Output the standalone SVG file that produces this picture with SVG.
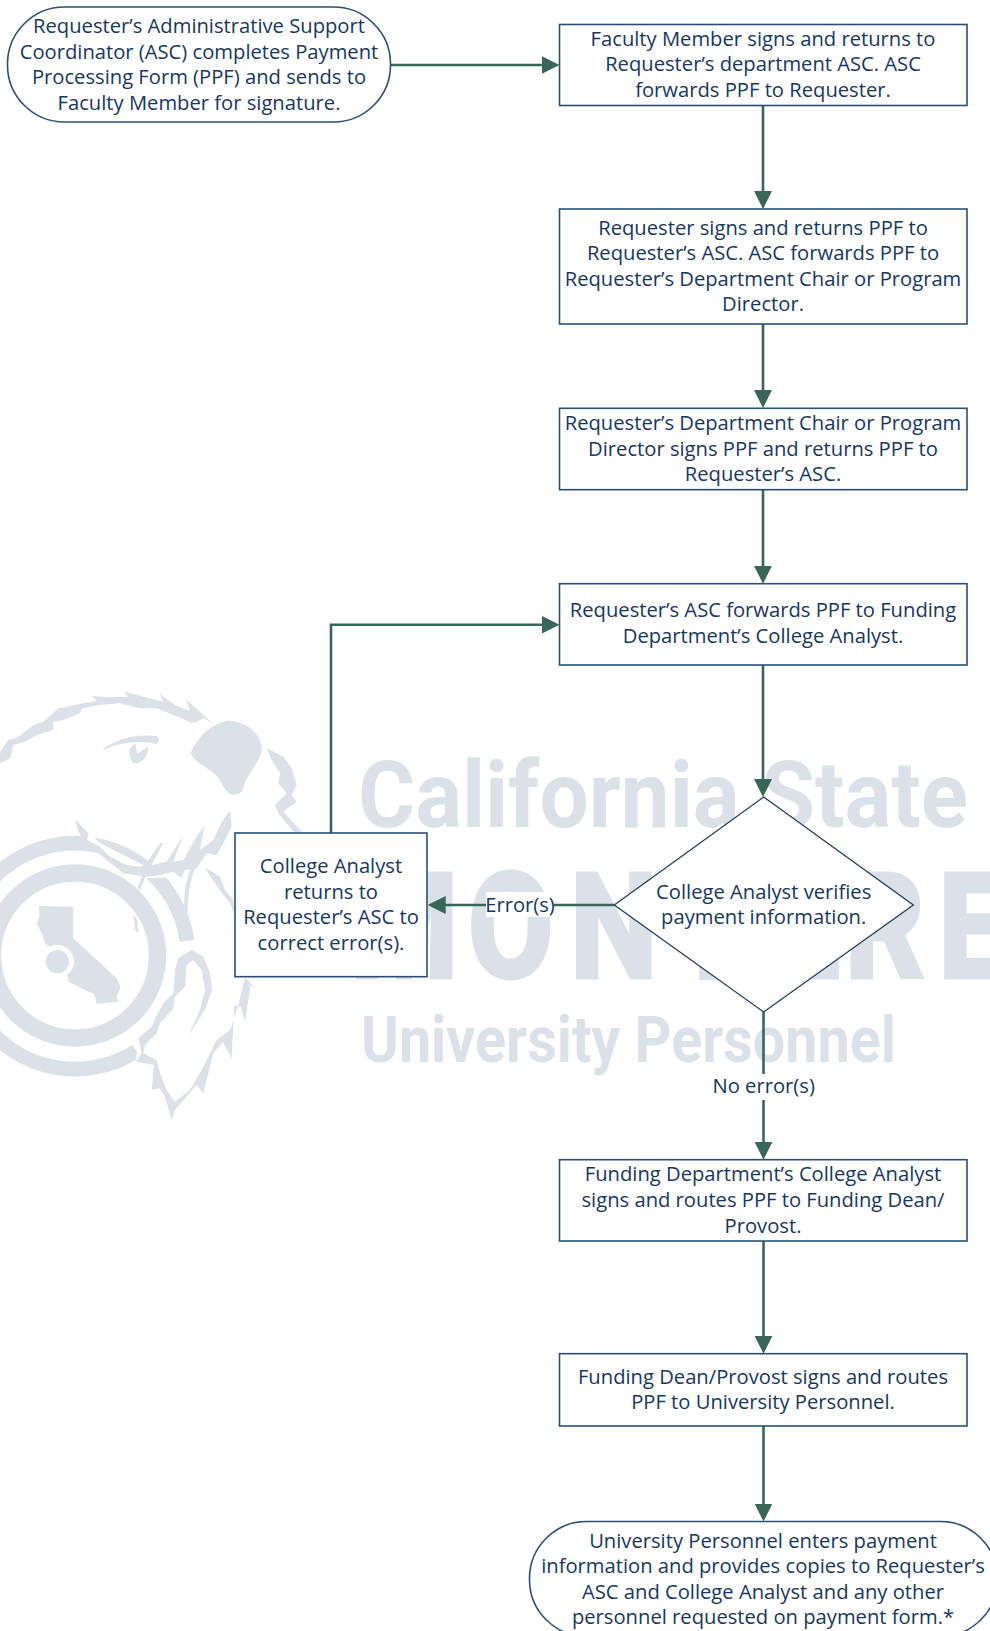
<svg xmlns="http://www.w3.org/2000/svg" width="990" height="1631" viewBox="0 0 990 1631">
<style>
.n{fill:#fff;stroke:#2b4f74;stroke-width:1.6}
.d{fill:#fff;stroke:#1f3d5f;stroke-width:1.3}
.t{font-family:"Open Sans","Noto Sans","DejaVu Sans",sans-serif;font-size:20.2px;fill:#17375e;text-anchor:middle}
.c{fill:none;stroke:#3a6658;stroke-width:2.6}
.w{fill:#dbe1e8}
.wt{font-family:Roboto,"Liberation Sans",sans-serif;font-weight:700;fill:#dbe1e8}
</style>
<defs>
<marker id="a" markerUnits="userSpaceOnUse" markerWidth="18" markerHeight="18" refX="8" refY="9" orient="auto"><path d="M0 0L18 9L0 18Z" fill="#3a6658"/></marker>
</defs>
<rect width="990" height="1631" fill="#fff"/>
<g id="watermark">
<g class="w">
<g transform="translate(0 680) scale(.33333)">
<path d="M0 215L25 180L50 175L100 135L130 125L175 85L225 75L290 62L275 48L330 52L385 50L370 33L430 50L490 65L478 42L530 78L570 92L558 58L605 100L637 130L610 115L590 125L575 128L520 105L470 85L420 85L360 70L300 75L245 85L240 100L190 120L160 125L160 150L110 165L75 185L40 195L30 235L0 250Z"/>
<path d="M305 212C340 180 400 160 470 168Q482 178 470 192C420 180 360 185 305 212Z"/>
<path d="M390 205L405 190L412 220L445 200C445 235 420 252 405 250C390 245 385 225 390 205Z"/>
</g>
<g transform="translate(0 670) scale(.33333)">
<path d="M572 250C590 200 640 155 690 152C740 155 785 190 785 240C780 280 745 300 725 365Q695 390 670 350C650 295 590 290 572 250Z"/>
<path d="M800 235L850 260L875 295L890 345L875 375L890 395L850 425L905 485L880 485L835 430L825 405L860 370L835 340L840 310L815 270Z"/>
<path d="M612 590L660 620L675 660L700 690L705 740L690 700L655 655Z"/>
</g>
</g>
<g fill="none" stroke="#dbe1e8">
<circle cx="75" cy="955.500" r="82.500" stroke-width="17.500"/>
<path d="M187 941A113 113 0 1 0 136.500 1051" stroke-width="14.700"/>
</g>
<g class="w">
<g transform="translate(0 680) scale(.33333)">
<path fill="#fff" d="M232 420L300 490L440 560L700 400L720 440L600 590L430 595L262 495Z"/>
<path d="M565 720C560 670 565 620 585 565L572 565C550 620 550 680 555 720Z"/>
<path d="M412 625L432 575L442 575L420 630Z"/>
<path d="M225 418L265 460L262 480L300 500L330 530L380 555L420 560L440 550L480 490L490 488L455 555L500 545L550 465L520 545L550 540L590 470L612 438L600 510L640 480L665 425L690 392L695 440L670 490L650 525L620 520L590 565L555 570L545 595L520 575L480 585L440 590L405 585L370 580L320 540L290 515L260 495L235 455Z"/>
</g>
<g transform="translate(0 890) scale(.33333)">
<path d="M117 48L220 50L220 145L350 265L362 290L350 322L356 335L290 342L282 312L235 290L205 275L190 200L135 160L125 130L110 100L118 80Z"/>
<circle cx="172" cy="215" r="50" fill="#fff"/>
<circle cx="172" cy="215" r="35"/>
<path d="M400 75L412 90L416 132L405 120Z"/>
<path fill="#fff" d="M525 240L520 310L465 385L415 445L408 515L462 525L600 640L772 300L740 200Z"/>
<path d="M772 300L752 285L735 395L722 350L703 345L695 505L668 455L640 490L610 610L590 585L525 660L515 690L495 620L478 595L455 600L462 525L408 515L425 488L415 445L455 410L465 385L490 340L520 310L525 240L535 205L575 180L610 200L630 250L636 300L615 360L565 437L600 360L615 300L605 240L580 210L560 225L555 290L525 320L520 355L480 400L470 430L435 465L430 490L470 510L482 555L500 600L525 635L570 600L610 530L650 450L690 420L715 345L735 262Z"/>
</g>
</g>
<text class="wt" font-size="93" x="358" y="827" textLength="610" lengthAdjust="spacingAndGlyphs">California State</text>
<text class="wt" font-size="145" stroke="#dbe1e8" stroke-width="5" transform="scale(.85 1)" x="412 551 671 791 906 994 1104" y="977.500">MONTERE</text>
<text class="wt" font-size="65" x="361" y="1062" textLength="535" lengthAdjust="spacingAndGlyphs">University Personnel</text>
</g>
<g id="connectors">
<path class="c" marker-end="url(#a)" d="M390 65H549.500"/>
<path class="c" marker-end="url(#a)" d="M763 105.700V199"/>
<path class="c" marker-end="url(#a)" d="M763 324V398"/>
<path class="c" marker-end="url(#a)" d="M763 490V573.700"/>
<path class="c" marker-end="url(#a)" d="M763 665V787"/>
<path class="c" marker-end="url(#a)" d="M614 905H437.700"/>
<path class="c" marker-end="url(#a)" d="M331 833V624.700H549.500"/>
<path class="c" marker-end="url(#a)" d="M763.500 1012V1149.700"/>
<path class="c" marker-end="url(#a)" d="M763.500 1241V1343.700"/>
<path class="c" marker-end="url(#a)" d="M763.500 1426V1511.500"/>
</g>
<g id="n-start"><rect class="n" x="7.500" y="7" width="383" height="115" rx="57" ry="57"/>
<text class="t"><tspan x="199" y="32.500">Requester’s Administrative Support</tspan><tspan x="199" y="58.500">Coordinator (ASC) completes Payment</tspan><tspan x="199" y="84">Processing Form (PPF) and sends to</tspan><tspan x="199" y="110">Faculty Member for signature.</tspan></text></g>
<g id="n-faculty"><rect class="n" x="559.500" y="24.500" width="407.500" height="81"/>
<text class="t"><tspan x="763" y="45.700">Faculty Member signs and returns to</tspan><tspan x="763" y="71">Requester’s department ASC. ASC</tspan><tspan x="763" y="96.700">forwards PPF to Requester.</tspan></text></g>
<g id="n-requester"><rect class="n" x="559.500" y="209" width="407.500" height="115"/>
<text class="t"><tspan x="763" y="234.500">Requester signs and returns PPF to</tspan><tspan x="763" y="260">Requester’s ASC. ASC forwards PPF to</tspan><tspan x="763" y="285.700">Requester’s Department Chair or Program</tspan><tspan x="763" y="311">Director.</tspan></text></g>
<g id="n-chair"><rect class="n" x="559.500" y="408.300" width="407.500" height="81.400"/>
<text class="t"><tspan x="763" y="430">Requester’s Department Chair or Program</tspan><tspan x="763" y="456">Director signs PPF and returns PPF to</tspan><tspan x="763" y="481">Requester’s ASC.</tspan></text></g>
<g id="n-forward"><rect class="n" x="559.500" y="583.700" width="407.500" height="81.300"/>
<text class="t"><tspan x="763" y="617">Requester’s ASC forwards PPF to Funding</tspan><tspan x="763" y="643">Department’s College Analyst.</tspan></text></g>
<g id="n-verify"><path class="d" d="M763.700 797L913.300 905L763.700 1012L614.300 905Z"/>
<text class="t"><tspan x="763.700" y="899">College Analyst verifies</tspan><tspan x="763.700" y="924">payment information.</tspan></text></g>
<g id="n-return"><rect class="n" x="235" y="833" width="192" height="143.700"/>
<text class="t"><tspan x="331" y="872.700">College Analyst</tspan><tspan x="331" y="898.700">returns to</tspan><tspan x="331" y="924">Requester’s ASC to</tspan><tspan x="331" y="950">correct error(s).</tspan></text></g>
<g id="l-error"><rect x="486" y="892" width="68" height="25" fill="#fff"/><text class="t" x="520" y="911.700">Error(s)</text></g>
<g id="l-noerror"><rect x="711" y="1074" width="105" height="26" fill="#fff"/><text class="t" x="763.700" y="1093">No error(s)</text></g>
<g id="n-routes"><rect class="n" x="559.500" y="1159.700" width="407.500" height="81.300"/>
<text class="t"><tspan x="763" y="1181">Funding Department’s College Analyst</tspan><tspan x="763" y="1206.700">signs and routes PPF to Funding Dean/</tspan><tspan x="763" y="1232.700">Provost.</tspan></text></g>
<g id="n-dean"><rect class="n" x="559.500" y="1353.700" width="407.500" height="72.300"/>
<text class="t"><tspan x="763" y="1384">Funding Dean/Provost signs and routes</tspan><tspan x="763" y="1409">PPF to University Personnel.</tspan></text></g>
<g id="n-end"><rect class="n" x="529.500" y="1521.500" width="468" height="115" rx="57" ry="57"/>
<text class="t"><tspan x="763" y="1547.700">University Personnel enters payment</tspan><tspan x="763" y="1573">information and provides copies to Requester’s</tspan><tspan x="763" y="1599.300">ASC and College Analyst and any other</tspan><tspan x="763" y="1624">personnel requested on payment form.*</tspan></text></g>
</svg>
